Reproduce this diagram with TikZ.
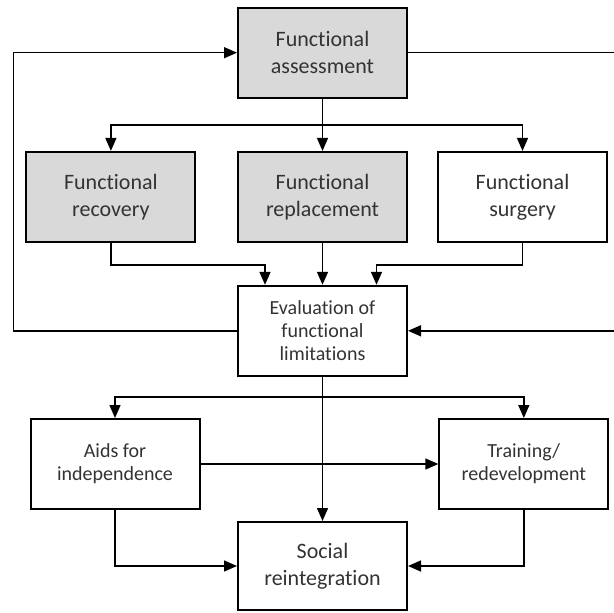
\documentclass[tikz,border=0pt]{standalone}
\usepackage{fontspec}
\setmainfont[RawFeature={-liga;-clig;-calt;-dlig}]{Carlito}
\usepackage{tikz}
\usetikzlibrary{arrows.meta}
\definecolor{boxgray}{HTML}{D9D9D9}
\definecolor{txtgray}{HTML}{333333}
\begin{document}
\begin{tikzpicture}[x=0.5pt, y=-0.5pt,
    box/.style={draw, line width=1pt, inner sep=0pt, minimum width=84.5pt, minimum height=45pt, align=center, text=txtgray, font=\fontsize{11}{13.5}\selectfont},
    shaded/.style={box, fill=boxgray},
    smalltext/.style={font=\fontsize{10}{11.5}\selectfont},
    arr/.style={-{Triangle[width=5.5pt,length=6.5pt]}, line width=0.75pt}]
                \useasboundingbox (0,0) rectangle (613,613);
                % Boxes
                \node at (322.5,52.7) [shaded] (assess) {Functional\\assessment};
                \node at (110.9,196.9) [shaded] (recov) {Functional\\recovery};
                \node at (322.5,196.9) [shaded] (repl) {Functional\\replacement};
                \node at (522.5,196.9) [box] (surg) {Functional\\surgery};
                \node at (322.5,330.8) [box, smalltext] (eval) {Evaluation of\\functional\\limitations};
                \node at (115,464) [box, smalltext] (aids) {Aids for\\independence};
                \node at (523.8,464) [box, smalltext] (train) {Training/\\redevelopment};
                \node at (322.5,566) [box, minimum height=44pt] (social) {Social\\reintegration};
                
                % Branch points and outer lines
                \coordinate (split1) at (322.5,125);
                \coordinate (split2) at (322.5,397);
                \coordinate (backL) at (13.3,0);
                \coordinate (backR) at (616,0);
                
                % Arrows
                \draw[line width=0.75pt] (assess) -- (split1);
                \draw[arr] (split1) -| (recov);
                \draw[arr] (split1) -- (repl);
                \draw[arr] (split1) -| (surg);
                \draw[arr] (recov.south) -- ++(0,22) -| ([xshift=-28.75pt]eval.north);
                \draw[arr] (repl) -- (eval);
                \draw[arr] (surg.south) -- ++(0,22) -| ([xshift=27pt]eval.north);
                \draw[arr] (eval.west) -- (eval.west -| backL) |- (assess.west);
                \draw[arr] (assess.east) -- (assess.east -| backR) |- (eval.east);
                \draw[arr] (eval) -- (social);
                \draw[arr] (split2) -| (aids);
                \draw[arr] (split2) -| (train);
                \draw[arr] (aids) -- (train);
                \draw[arr] (aids.south) |- (social.west);
                \draw[arr] (train.south) |- (social.east);
                
                \end{tikzpicture}
\end{document}
